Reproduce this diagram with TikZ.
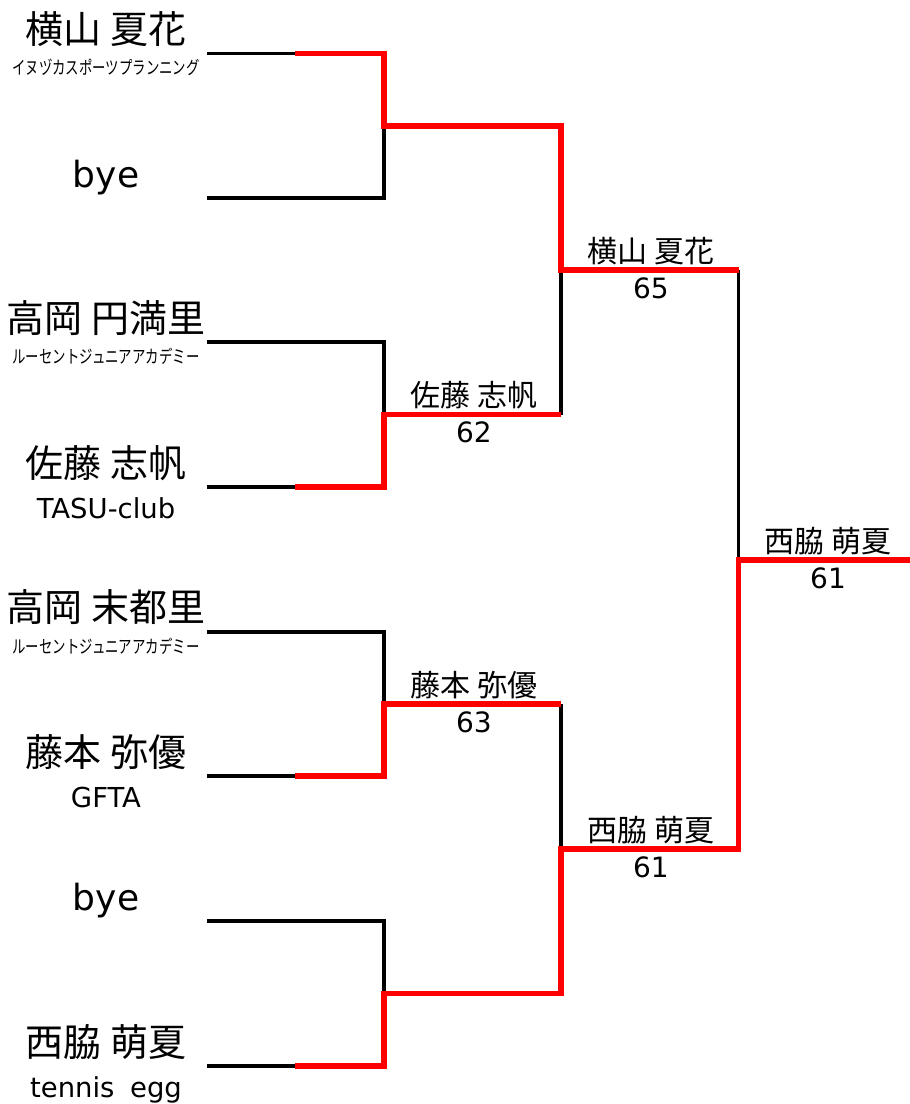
\documentclass[tikz,border=0pt]{standalone}
\usepackage{fontspec}
\setmainfont{DejaVu Sans}
\newfontfamily\jp{Noto Sans CJK JP}
\newfontfamily\jpnarrow[FakeStretch=0.74]{Noto Sans CJK JP}
\begin{document}
\begin{tikzpicture}[x=0.75pt,y=-0.75pt,
  loser/.style={draw=black,line width=2.3pt,line join=miter},
  winner/.style={draw=red,line width=4.1pt,line join=miter},
  pname/.style={font=\jp\fontsize{28.5pt}{30pt}\selectfont,inner sep=0pt,anchor=center},
  byename/.style={font=\fontsize{27pt}{30pt}\selectfont,inner sep=0pt,anchor=base},
  teamkana/.style={font=\jpnarrow\fontsize{13.6pt}{15pt}\selectfont,inner sep=0pt,anchor=center},
  teamlatin/.style={font=\fontsize{20.6pt}{24pt}\selectfont,inner sep=0pt,anchor=base},
  rname/.style={font=\jp\fontsize{22.5pt}{24pt}\selectfont,inner sep=0pt,anchor=center},
  rscore/.style={font=\fontsize{21pt}{24pt}\selectfont,inner sep=0pt,anchor=center}]
\useasboundingbox[fill=white] (0,0) rectangle (910,1104);
% round 1 coordinates
\foreach \i/\y in {1/53.5,2/198,3/342,4/487,5/632,6/776,7/921,8/1066}{
  \coordinate (s\i) at (207,\y);
  \coordinate (h\i) at (295,\y);
  \coordinate (c\i) at (384,\y);
}
% round 2 coordinates
\foreach \i/\y in {1/126,2/414.5,3/704,4/993.5}{
  \coordinate (m\i) at (384,\y);
  \coordinate (e\i) at (561,\y);
}
% round 3 coordinates
\foreach \i/\y in {1/270,2/849}{
  \coordinate (n\i) at (561,\y);
  \coordinate (f\i) at (738.5,\y);
}
\coordinate (g) at (738.5,560);
\coordinate (gend) at (910,560);
% black lines
\draw[loser] (s1) -- (h1);
\draw[loser] (s2) -- (c2) -- (m1);
\draw[loser] (s3) -- (c3) -- (m2);
\draw[loser] (s4) -- (h4);
\draw[loser] (s5) -- (c5) -- (m3);
\draw[loser] (s6) -- (h6);
\draw[loser] (s7) -- (c7) -- (m4);
\draw[loser] (s8) -- (h8);
\draw[loser] (e2) -- (n1);
\draw[loser] (e3) -- (n2);
\draw[loser] (f1) -- (f2);
% red winner paths
\draw[winner] (h1) -- (c1) -- (m1) -- (e1) -- (n1) -- (f1);
\draw[winner] (h4) -- (c4) -- (m2) -- (e2);
\draw[winner] (h6) -- (c6) -- (m3) -- (e3);
\draw[winner] (h8) -- (c8) -- (m4) -- (e4) -- (n2) -- (f2) -- (g) -- (gend);
% player names
\node[pname] (p1) at (106,29.5) {横山 夏花};
\node[teamkana] (t1) at (106,67) {イヌヅカスポーツプランニング};
\node[byename] (p2) at (106,187) {bye};
\node[pname] (p3) at (106,318) {高岡 円満里};
\node[teamkana] (t3) at (106,356.5) {ルーセントジュニアアカデミー};
\node[pname] (p4) at (106,463) {佐藤 志帆};
\node[teamlatin] (t4) at (106,518) {TASU-club};
\node[pname] (p5) at (106,607.5) {高岡 末都里};
\node[teamkana] (t5) at (106,646.5) {ルーセントジュニアアカデミー};
\node[pname] (p6) at (106,752.5) {藤本 弥優};
\node[teamlatin] (t6) at (106,807) {GFTA};
\node[byename] (p7) at (106,910) {bye};
\node[pname] (p8) at (106,1042) {西脇 萌夏};
\node[teamlatin] (t8) at (106,1097) {tennis\hspace{0.25em} egg};
% round results
\node[rname] (w2) at (474,395.5) {佐藤 志帆};
\node[rscore] (sc2) at (474,432.5) {62};
\node[rname] (w3) at (474,685) {藤本 弥優};
\node[rscore] (sc3) at (474,722) {63};
\node[rname] (x1) at (651,251.5) {横山 夏花};
\node[rscore] (sx1) at (651,288) {65};
\node[rname] (x2) at (651,830) {西脇 萌夏};
\node[rscore] (sx2) at (651,867) {61};
\node[rname] (fw) at (828,541) {西脇 萌夏};
\node[rscore] (fs) at (828,578) {61};
\end{tikzpicture}
\end{document}
